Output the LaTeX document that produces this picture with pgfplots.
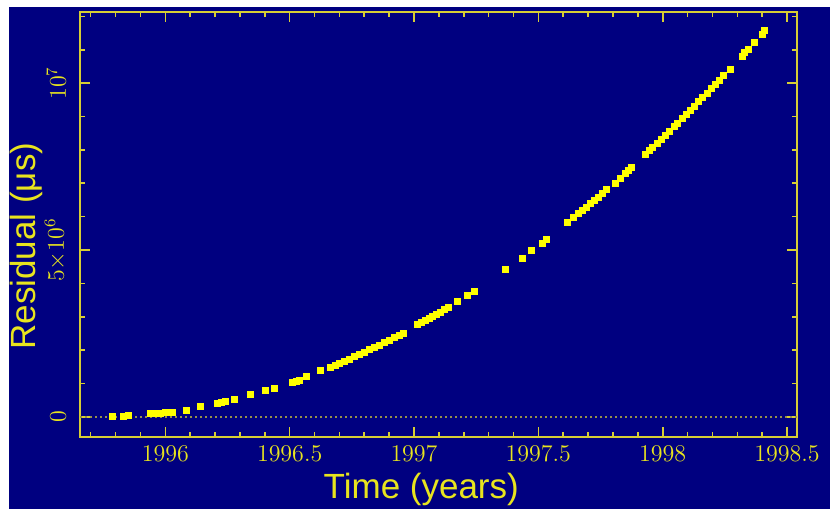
\documentclass[border=0pt]{standalone}
\usepackage{pgfplots}
\pgfplotsset{compat=1.18}
\usepackage{fontspec}
\setmainfont{Liberation Sans}
\definecolor{bgnavy}{RGB}{0,0,128}
\definecolor{ptyellow}{RGB}{255,255,0}
\definecolor{axyellow}{RGB}{214,206,52}
\definecolor{txtyellow}{RGB}{232,228,30}
\begin{document}
\begin{tikzpicture}
\path[use as bounding box] (-40pt,-36pt) rectangle (375pt,218.5pt);
\fill[white] (-40pt,-36pt) rectangle (375pt,218.5pt);
\fill[bgnavy] (-35.5pt,-36pt) rectangle (375pt,215pt);
\begin{axis}[
  scale only axis,
  width=358.5pt, height=212.5pt,
  xmin=1995.657, xmax=1998.54,
  ymin=-0.599, ymax=12.13,
  axis line style={draw=axyellow, line width=1pt},
  every tick/.style={draw=axyellow, line width=0.8pt},
  major tick length=5pt, minor tick length=2.5pt,
  tick align=inside,
  xtick={1996,1996.5,1997,1997.5,1998,1998.5},
  xticklabels={$1996$,$1996.5$,$1997$,$1997.5$,$1998$,$1998.5$},
  minor xtick={1995.7,1995.8,1995.9,1996.1,1996.2,1996.3,1996.4,1996.6,1996.7,1996.8,1996.9,1997.1,1997.2,1997.3,1997.4,1997.6,1997.7,1997.8,1997.9,1998.1,1998.2,1998.3,1998.4},
  ytick={0,5,10},
  yticklabels={$0$,$5{\times}10^6$,$10^7$},
  minor ytick={1,2,3,4,6,7,8,9,11,12},
  ticklabel style={text=txtyellow, font=\fontsize{11.5}{13}\selectfont},
  yticklabel style={rotate=90, anchor=south, yshift=3.5pt},
  xticklabel style={yshift=-1pt},
  xlabel={Time (years)},
  ylabel={Residual (μs)},
  label style={text=txtyellow, font=\fontsize{17.5}{20}\selectfont, inner sep=0pt},
  xlabel style={at={(axis description cs:0.476,-0.085)}, anchor=north},
  ylabel style={at={(axis description cs:-0.0976,0.449)}, anchor=north},
  clip=false,
]
\addplot[draw=axyellow!70!bgnavy, line width=1pt, dash pattern=on 1pt off 1.5pt, forget plot] coordinates {(1995.657,0) (1998.54,0)};
\addplot[only marks, mark=square*, mark size=1.5pt, mark options={fill=ptyellow, draw=ptyellow, line width=0.3pt}] coordinates {
(1995.787,0.02) (1995.830,0.03) (1995.850,0.04)
(1995.940,0.10) (1995.960,0.11) (1995.980,0.12) (1996.000,0.13) (1996.015,0.14) (1996.030,0.15)
(1996.085,0.21) (1996.141,0.31) (1996.208,0.42) (1996.225,0.44) (1996.242,0.46)
(1996.278,0.54) (1996.343,0.67) (1996.403,0.79) (1996.437,0.86)
(1996.511,1.04) (1996.525,1.08) (1996.538,1.11) (1996.565,1.21) (1996.625,1.39)
(1996.665,1.501) (1996.683,1.557) (1996.700,1.610) (1996.720,1.674) (1996.740,1.740)
(1996.760,1.806) (1996.780,1.874) (1996.800,1.943) (1996.820,2.013) (1996.840,2.085)
(1996.860,2.157) (1996.880,2.231) (1996.900,2.307) (1996.920,2.383) (1996.940,2.461) (1996.955,2.520)
(1997.015,2.764) (1997.030,2.826) (1997.045,2.890) (1997.060,2.954) (1997.075,3.018)
(1997.090,3.084) (1997.105,3.150) (1997.120,3.217) (1997.136,3.289)
(1997.176,3.46) (1997.214,3.65) (1997.243,3.77)
(1997.368,4.41) (1997.434,4.76) (1997.473,4.98) (1997.515,5.20) (1997.531,5.31)
(1997.618,5.82) (1997.642,5.97)
(1997.660,6.091) (1997.676,6.190) (1997.692,6.290) (1997.708,6.391) (1997.724,6.492)
(1997.740,6.594) (1997.757,6.704) (1997.774,6.814)
(1997.808,7.01) (1997.828,7.16) (1997.848,7.30) (1997.862,7.40) (1997.875,7.47)
(1997.929,7.862) (1997.945,7.975) (1997.960,8.081) (1997.978,8.209) (1997.995,8.332)
(1998.010,8.440) (1998.028,8.571) (1998.045,8.696) (1998.060,8.807) (1998.078,8.941)
(1998.095,9.068) (1998.110,9.181) (1998.128,9.318) (1998.145,9.449) (1998.160,9.564)
(1998.178,9.703) (1998.195,9.836) (1998.210,9.954) (1998.228,10.096) (1998.245,10.232)
(1998.271,10.42)
(1998.319,10.81) (1998.330,10.92) (1998.345,11.02) (1998.369,11.23) (1998.400,11.46) (1998.410,11.58)
};
\end{axis}
\end{tikzpicture}
\end{document}
